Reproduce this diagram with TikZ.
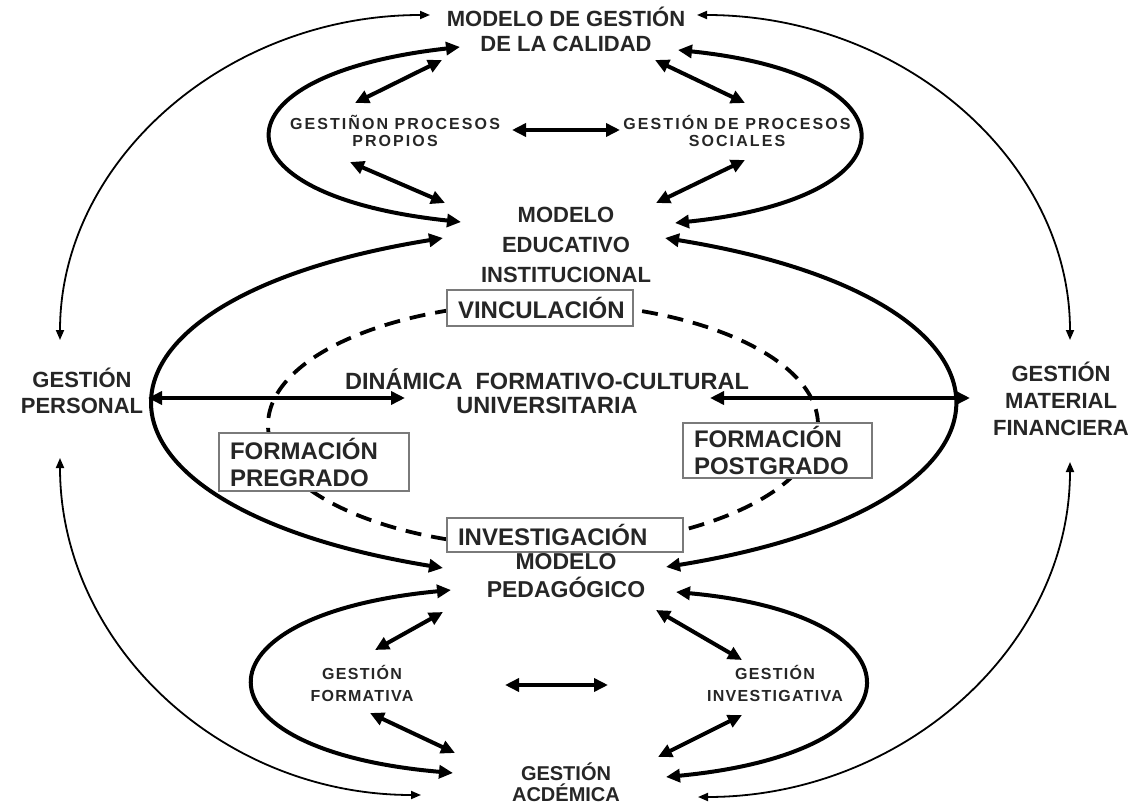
\documentclass[tikz,border=0pt]{standalone}
\usepackage{fontspec}
\setmainfont{Liberation Sans}
\newfontfamily\spacedfont{Liberation Sans}[LetterSpace=13]
\newfontfamily\halfspacedfont{Liberation Sans}[LetterSpace=8]
\usepackage{tikz}
\usetikzlibrary{arrows.meta}
\definecolor{txtgray}{HTML}{262626}
\definecolor{boxgray}{HTML}{7A7A7A}
\tikzstyle{bigtext} = [align=center, inner sep=0pt, text=txtgray, font=\fontsize{22}{25}\selectfont\bfseries]
\tikzstyle{smalltext} = [align=center, inner sep=0pt, text=txtgray, font=\spacedfont\fontsize{16}{17}\selectfont\bfseries]
\tikzstyle{midtext} = [align=center, inner sep=0pt, text=txtgray, font=\halfspacedfont\fontsize{16}{22}\selectfont\bfseries]
\tikzstyle{boxtext} = [rectangle, draw=boxgray, line width=1.8pt, fill=white, align=left, inner xsep=11pt, inner ysep=0pt, text=txtgray, font=\fontsize{24}{27}\selectfont\bfseries]
\tikzstyle{thickarrow} = [line width=4pt, {Triangle[length=14pt,width=13pt]}-{Triangle[length=14pt,width=13pt]}]
\tikzstyle{thinarrow} = [line width=1.8pt, {Triangle[length=10pt,width=8pt]}-{Triangle[length=10pt,width=8pt]}]
\tikzstyle{dashline} = [line width=3.8pt, dash pattern=on 16pt off 10pt]

\begin{document}
\begin{tikzpicture}[x=1pt, y=-1pt]
        \useasboundingbox (0,0) rectangle (1138,805);

        % dashed ring behind the boxes
        \draw [dashline] (543,425) ellipse [x radius=275pt, y radius=122pt];

        \node (calidad) [bigtext] at (566,29) {MODELO DE GESTIÓN\\DE LA CALIDAD};
        \node (educativo) [bigtext, node distance=216pt, below of=calidad, font=\fontsize{22}{30}\selectfont\bfseries] {MODELO\\EDUCATIVO\\INSTITUCIONAL};
        \node (pedagogico) [bigtext, node distance=331pt, below of=educativo, font=\fontsize{23}{28}\selectfont\bfseries] {MODELO\\PEDAGÓGICO};
        \node (academica) [bigtext, node distance=206pt, below of=pedagogico, font=\fontsize{20}{21}\selectfont\bfseries] {GESTIÓN\\ACDÉMICA};
        \node (propios) [smalltext] at (395,131) {GESTIÑON PROCESOS\\PROPIOS};
        \node (sociales) [smalltext] at (737,131) {GESTIÓN DE PROCESOS\\SOCIALES};
        \node (dinamica) [bigtext, font=\fontsize{23.5}{24}\selectfont\bfseries] at (547,391) {DINÁMICA\ \ FORMATIVO-CULTURAL\\UNIVERSITARIA};
        \node (personal) [bigtext, font=\fontsize{22}{26}\selectfont\bfseries] at (82,391) {GESTIÓN\\PERSONAL};
        \node (financiera) [bigtext, font=\fontsize{22}{27}\selectfont\bfseries] at (1061,399) {GESTIÓN\\MATERIAL\\FINANCIERA};
        \node (formativa) [midtext] at (362,683) {GESTIÓN\\FORMATIVA};
        \node (investigativa) [midtext] at (775,683) {GESTIÓN\\INVESTIGATIVA};
        \node (vinculacion) [boxtext, text width=164pt, minimum height=36pt] at (540,308) {VINCULACIÓN};
        \node (pregrado) [boxtext, text width=168pt, minimum height=58pt] at (314,462) {FORMACIÓN\\PREGRADO};
        \node (postgrado) [boxtext, text width=167pt, minimum height=55pt] at (777.5,450.5) {FORMACIÓN\\POSTGRADO};
        \node (investigacion) [boxtext, text width=214pt, minimum height=34pt] at (565,535) {INVESTIGACIÓN};

        % upper loop
        \draw [thinarrow] ([shift={(-136,-14)}]calidad.center) .. controls +(-204,0) and +(0,-179) .. ([shift={(-22,-51)}]personal.center);
        \draw [thinarrow] ([shift={(131,-14)}]calidad.center) .. controls +(206,0) and +(0,-179) .. ([shift={(9,-59)}]financiera.center);
        \draw [thickarrow] ([shift={(-106,18)}]calidad.center) .. controls +(-250,28) and +(-253,-27) .. ([shift={(-105,-23)}]educativo.center);
        \draw [thickarrow] ([shift={(112,21)}]calidad.center) .. controls +(242,25) and +(243,-25) .. ([shift={(109,-22)}]educativo.center);
        \draw [thickarrow] ([shift={(-40,-28)}]propios.center) -- ([shift={(-124,31)}]calidad.center);
        \draw [thickarrow] ([shift={(-45,31)}]propios.center) -- ([shift={(-121,-42)}]educativo.center);
        \draw [thickarrow] ([shift={(117,-1)}]propios.center) -- ([shift={(-117,-1)}]sociales.center);
        \draw [thickarrow] ([shift={(8,-28)}]sociales.center) -- ([shift={(89,31)}]calidad.center);
        \draw [thickarrow] ([shift={(8,29)}]sociales.center) -- ([shift={(90,-42)}]educativo.center);

        % middle
        \draw [thickarrow] ([shift={(-123,-7)}]educativo.center) .. controls +(-385,62) and +(-385,-63) .. ([shift={(-123,-8)}]pedagogico.center);
        \draw [thickarrow] ([shift={(99,-7)}]educativo.center) .. controls +(384,62) and +(383,-62) .. ([shift={(100,-9)}]pedagogico.center);
        \draw [thickarrow] ([shift={(66,7)}]personal.center) -- ([shift={(-142,7)}]dinamica.center);
        \draw [thickarrow] ([shift={(163,7)}]dinamica.center) -- ([shift={(-91,-1)}]financiera.center);

        % lower loop
        \draw [thickarrow] ([shift={(-115,14)}]pedagogico.center) .. controls +(-263,25) and +(-265,-23) .. ([shift={(-113,-9)}]academica.center);
        \draw [thickarrow] ([shift={(110,16)}]pedagogico.center) .. controls +(252,23) and +(262,-25) .. ([shift={(100,-5)}]academica.center);
        \draw [thickarrow] ([shift={(13,-33)}]formativa.center) -- ([shift={(-123,36)}]pedagogico.center);
        \draw [thickarrow] ([shift={(8,30)}]formativa.center) -- ([shift={(-111,-29)}]academica.center);
        \draw [thickarrow] ([shift={(143,2)}]formativa.center) -- ([shift={(-167,2)}]investigativa.center);
        \draw [thickarrow] ([shift={(-33,-23)}]investigativa.center) -- ([shift={(90,34)}]pedagogico.center);
        \draw [thickarrow] ([shift={(-33,32)}]investigativa.center) -- ([shift={(92,-25)}]academica.center);
        \draw [thinarrow] ([shift={(-22,67)}]personal.center) .. controls +(0,186) and +(-200,0) .. ([shift={(-145,13)}]academica.center);
        \draw [thinarrow] ([shift={(9,63)}]financiera.center) .. controls +(0,185) and +(204,0) .. ([shift={(132,15)}]academica.center);
    \end{tikzpicture}
\end{document}
